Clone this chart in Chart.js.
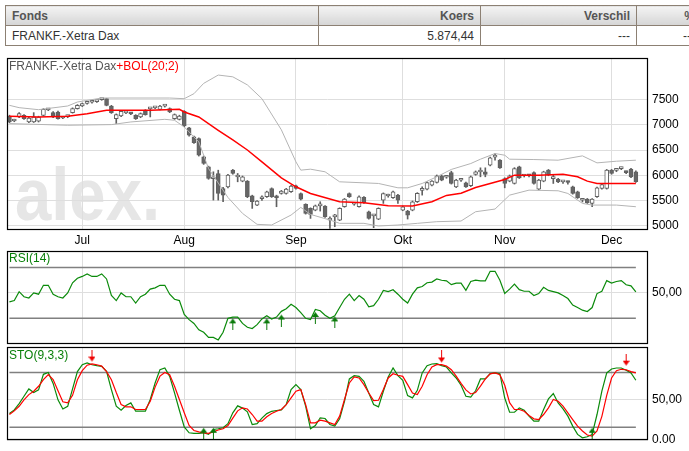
<!DOCTYPE html>
<html>
<head>
<meta charset="utf-8">
<script src="https://cdn.jsdelivr.net/npm/chart.js@4.4.0/dist/chart.umd.min.js"></script>
<style>
  html, body { margin: 0; padding: 0; background: #fff; }
  body { width: 689px; height: 451px; overflow: hidden; position: relative; font-family: "Liberation Sans", Arial, sans-serif; }
  table.quote { position: absolute; left: 5px; top: 5px; border-collapse: collapse; table-layout: fixed; width: 696px; font-size: 12px; }
  table.quote th, table.quote td { border: 1px solid #8c8073; height: 19px; padding: 0 6px; white-space: nowrap; }
  table.quote th { background: linear-gradient(#f4f4f4, #d5d5d5); color: #555; font-weight: bold; }
  table.quote td { color: #333; }
  .r { text-align: right; }
  .red { color: #e00000; }
  canvas { position: absolute; left: 0; }
  .ttl { position: absolute; left: 9px; font-size: 12px; line-height: 14px; white-space: nowrap; }
</style>
</head>
<body>
<table class="quote">
  <col style="width:313px"><col style="width:162px"><col style="width:156px"><col style="width:65px">
  <tr><th style="text-align:left">Fonds</th><th class="r">Koers</th><th class="r">Verschil</th><th class="r">%</th></tr>
  <tr><td>FRANKF.-Xetra Dax</td><td class="r">5.874,44</td><td class="r red">---</td><td class="r red">---</td></tr>
</table>

<canvas id="cPrice" width="689" height="200" style="top:50px"></canvas>
<canvas id="cRsi" width="689" height="96" style="top:250px"></canvas>
<canvas id="cSto" width="689" height="106" style="top:345px"></canvas>

<div class="ttl" style="top:59px"><span style="color:#555">FRANKF.-Xetra Dax</span><span style="color:#f00">+BOL(20;2)</span></div>
<div class="ttl" style="top:251px;color:#0a800a">RSI(14)</div>
<div class="ttl" style="top:348px;color:#0a800a">STO(9,3,3)</div>

<script>
// trading days from 10 Jun to 8 Dec, two empty slots at the right
const slotCount = 132;
const monthLabels = ['Jul', 'Aug', 'Sep', 'Okt', 'Nov', 'Dec'];
const monthStart = [15, 36, 59, 81, 102, 124];

const priceOpen = [
  7168,7075,7154,7187,7056,7056,7069,7187,7295,7240,
  7253,7135,7162,7240,7319,7372,7425,7446,7460,7498,
  7517,7372,7121,7174,7235,7225,7187,7154,7286,7315,
  7335,7306,7368,7319,7121,7108,7266,6937,6759,6726,
  6364,6166,5930,6035,5738,5771,6100,5965,5883,5883,
  5593,5409,5535,5573,5738,5593,5639,5639,5672,5791,
  5639,5422,5343,5310,5392,5389,5110,5175,5112,5376,
  5639,5425,5376,5560,5277,5195,5132,5508,5588,5554,
  5606,5310,5290,5310,5475,5700,5725,5804,5857,5989,
  5960,6054,5771,5900,5850,5791,6015,6065,6068,6199,
  6360,6298,5936,5883,5837,6166,5985,5992,6054,5725,
  5883,6100,5934,5923,5868,5858,5771,5672,5505,5527,
  5442,5573,5738,5738,6100,6096,6130,6056,6120,6068
];
const priceHigh = [
  7190,7110,7240,7200,7150,7240,7170,7320,7320,7260,
  7270,7165,7190,7335,7400,7430,7455,7475,7485,7525,
  7525,7385,7215,7280,7265,7245,7200,7235,7300,7335,
  7360,7385,7395,7335,7215,7190,7280,6950,6775,6740,
  6380,6180,6068,6100,5760,6020,6115,6035,5985,5895,
  5605,5500,5590,5685,5750,5605,5700,5740,5800,5805,
  5650,5435,5355,5410,5475,5400,5178,5225,5355,5540,
  5650,5455,5590,5575,5290,5225,5355,5650,5625,5685,
  5620,5390,5305,5490,5655,5771,5870,5895,6005,6005,
  5990,6080,5920,5935,5865,5985,6085,6147,6147,6360,
  6430,6310,5950,6005,6150,6180,6015,6015,6070,5920,
  6080,6115,6002,5940,5900,5885,5785,5685,5540,5540,
  5540,5765,5830,6115,6115,6130,6160,6080,6135,6085
];
const priceLow = [
  7040,7060,7140,7105,7040,7045,7055,7175,7280,7140,
  7110,7120,7140,7230,7310,7360,7410,7430,7445,7485,
  7375,7225,7023,7160,7220,7200,7105,7140,7190,7155,
  7320,7295,7350,7240,7105,7095,6960,6775,6630,6380,
  6215,5920,5508,5508,5475,5750,6020,5870,5870,5555,
  5343,5395,5500,5560,5560,5376,5625,5625,5660,5725,
  5510,5230,5145,5295,5290,5165,4948,4980,5100,5365,
  5560,5405,5365,5440,5130,4961,5120,5442,5565,5540,
  5442,5296,5132,5295,5460,5606,5710,5790,5845,5890,
  5940,5825,5755,5880,5760,5775,6000,5969,5969,6185,
  6298,6135,5751,5870,5825,5935,5965,5965,5825,5710,
  5870,5990,5837,5855,5840,5825,5625,5540,5470,5440,
  5376,5560,5725,5725,6020,6070,6110,6030,5950,5860
];
const priceClose = [
  7056,7085,7220,7121,7135,7154,7154,7306,7302,7154,
  7121,7145,7172,7319,7385,7418,7435,7455,7468,7508,
  7385,7240,7201,7266,7245,7215,7121,7220,7200,7322,
  7342,7372,7376,7253,7201,7174,6977,6792,6647,6397,
  6232,5936,5940,5640,5606,6002,6035,5975,5969,5573,
  5475,5488,5545,5672,5573,5554,5686,5725,5784,5738,
  5527,5244,5224,5396,5400,5178,5115,5182,5343,5527,
  5573,5433,5573,5455,5145,5200,5343,5639,5598,5672,
  5508,5376,5211,5475,5640,5710,5857,5883,5989,5903,
  5965,5837,5903,5906,5771,5969,6068,6072,6015,6344,
  6365,6147,5837,5989,6133,5949,5993,5986,5837,5903,
  6068,6002,5940,5870,5872,5856,5640,5554,5510,5455,
  5527,5751,5817,6100,6035,6104,6136,6052,5969,5874.44
];

// Bollinger (20;2)
const bolUpperDay = [0,2,6,12,14,19,33,36,38,40,43,46,49,52,56,59,60,62,65,68,76,80,82,85,88,91,95,97,100,102,103,108,113,118,121,125,129];
const bolUpper    = [7385,7339,7299,7372,7451,7530,7530,7517,7616,7820,7985,7950,7790,7517,6900,6265,6101,6120,6068,5870,5837,5751,5751,5837,5969,6115,6232,6318,6430,6397,6318,6311,6298,6384,6245,6278,6298];
const bolMidDay   = [0,6,12,16,20,29,35,36,39,43,46,49,52,56,59,62,68,73,78,83,87,90,93,96,102,104,109,114,117,119,121,129];
const bolMid      = [7168,7154,7168,7220,7286,7286,7306,7253,7154,6891,6700,6500,6265,5949,5771,5639,5475,5455,5396,5389,5475,5600,5645,5758,5916,6002,6002,6021,5969,5883,5837,5837];
const bolLowerDay = [0,5,12,21,25,32,34,36,39,41,45,48,51,54,58,60,62,66,68,73,76,80,84,88,93,96,100,103,107,113,115,118,120,125,129];
const bolLower    = [7023,7010,6990,7003,7056,7108,7089,6957,6660,6133,5560,5244,5027,5014,5211,5363,5224,5112,5047,5047,4994,5014,5047,5080,5093,5277,5330,5606,5705,5692,5639,5442,5409,5409,5376];

const rsi14 = [
  43,44,51,47,46,50,49,56,56,49,
  47,46,50,58,61.5,63,65,63,63,65,
  61,48,44,50,47,47,42,47,49,53,
  54,56,56,49,45,44,33,29,26,21,
  19,15,15,13,19,30,31,31,26,23,
  22,25,29.5,32,29.5,31,35.5,37.5,41,38.5,
  34.5,30,29,37,36,32.5,30,32,38.5,45,
  49,44,48,45,39,40,45,52,51,52.5,
  49,45,42,49,54,55,58,58.5,61,60,
  59.5,56.5,57.7,57.7,52,59,60,59.5,59.5,67,
  67,60,49.5,53,57,52.6,51.3,51.3,48,49.5,
  54.4,52,51,50,48,45.6,40.5,38.5,36.4,35.4,
  38.5,49.5,51.3,59.7,57.7,59,59.7,56.4,55.6,50.8
];
const stoK = [
  35,39,46,54,62,58,61,78,80,68,
  50,40,43,62,81,88.5,90.4,88.5,87.5,86.7,
  81.3,61.3,43.1,38.7,43.8,46.7,37.6,37.6,37.6,50.4,
  68.5,83.1,84.9,75.8,57.6,38.7,20.5,14,13.3,13.3,
  14,12.2,17.6,18.4,19.5,24,35.8,43.5,41,37,
  23,24,30,35,37.5,38.4,39,44.9,61.3,66.7,
  61.3,43.1,18.4,22,30.4,29.6,23.1,21.3,29.3,48.5,
  72.9,76.5,75.8,70.4,57.6,44.9,42.4,59.5,75.1,84.9,
  76.5,71.5,54.7,52.2,60.5,79.5,87.5,89.3,89.6,87.5,
  86,79.5,74,66,54,53,60,72.9,72.9,78.7,
  79.5,78.7,52,36.5,36.5,41.3,38.7,32.2,26.7,26.7,
  39.5,51.1,56.9,46.7,40.2,32.2,21.3,12.2,8.5,9.6,
  12.2,34,59.5,79.5,83.8,84.9,84.9,82.4,79.5,71.5
];
const stoD = [
  34,38,43,50,55.8,59.5,64.9,72.2,77.6,72.2,
  60,48,46.7,55,72,82,88,89.5,88.5,87,
  81,72,58,45,42.4,42.4,39.5,39.5,39.5,48.5,
  64,76,80,77.6,65,50.4,36,22,16.5,15,
  14,13.3,15,17,18.4,22,30,38,41.3,40,
  34,26.7,26.7,31.5,35.1,37.6,39.5,44.9,52.2,59.5,
  61.3,44.9,24.9,24.9,27.8,26.7,24.9,23.1,32.2,50.4,
  68.5,75.1,74,66.7,57.6,49.3,49.6,61.3,74,78.7,
  77,75.8,66.7,57.6,55.8,64.9,77.6,86,88.5,88.5,
  87,83,76,68,61,56.5,58,65,73,78.5,
  79.5,77.6,66,47,39.5,39.5,37.6,32.9,29.3,28.5,
  34,41.3,50.4,48.5,43.1,35.8,28.5,21.3,16,11.5,
  10.4,16,32,55,74,82,83.5,83,81,79.5
];

const rsiLevels = [70, 30];
const stoLevels = [80, 20];
const rsiBuyDay = [46, 53, 56, 63, 67];
const rsiBuyVal = [30, 30, 33, 35, 31.5];
const stoSellDay = [17, 89, 127];
const stoSellVal = [92, 91, 87.5];
const stoBuyDay = [40, 42, 120];
const stoBuyVal = [19.5, 19.5, 19.5];

const priceTicks = [5000, 5500, 6000, 6500, 7000, 7500];
const rsiTicks = [50];
const rsiTickLabels = ['50,00'];
const stoTicks = [6.1, 50];
const stoTickLabels = ['0.00', '50,00'];

const FONT = '"Liberation Sans", Arial, sans-serif';
Chart.defaults.font.family = FONT;
Chart.defaults.font.size = 12;
Chart.defaults.color = '#000';

const lastDay = priceClose.length - 1;
const pts = (xs, ys) => xs.map((x, i) => ({ x: x, y: ys[i] }));
const series = ys => ys.map((y, i) => ({ x: i, y: y }));

function noPad(s) {
  s.paddingTop = 0; s.paddingBottom = 0; s.paddingLeft = 0; s.paddingRight = 0;
}

function xAxis(showLabels) {
  return {
    type: 'linear', min: -0.5, max: slotCount - 0.5, offset: false,
    grid: { color: '#dedede', drawTicks: false, offset: false },
    border: { display: false },
    afterBuildTicks: s => { s.ticks = monthStart.map(v => ({ value: v })); },
    afterFit: s => { s.height = showLabels ? 20 : 0; noPad(s); },
    ticks: {
      display: showLabels, autoSkip: false, maxRotation: 0, padding: 3,
      callback: v => monthLabels[monthStart.indexOf(v)]
    }
  };
}

function yAxis(min, max, ticks, labels) {
  return {
    type: 'linear', position: 'right', min: min, max: max,
    grid: { color: '#dedede', drawTicks: false },
    border: { display: false },
    afterBuildTicks: s => { s.ticks = ticks.map(v => ({ value: v })); },
    afterFit: s => { s.width = 41; noPad(s); },
    ticks: { padding: 4, callback: (v, i) => labels ? labels[i] : String(v) }
  };
}

const framePlugin = {
  id: 'frame',
  afterDraw(chart) {
    const a = chart.chartArea, ctx = chart.ctx;
    ctx.save();
    ctx.strokeStyle = '#000';
    ctx.lineWidth = 1.2;
    ctx.strokeRect(Math.round(a.left) + 0.5, Math.round(a.top) + 0.5,
      Math.round(a.right - a.left) - 1, Math.round(a.bottom - a.top) - 1);
    ctx.restore();
  }
};

const watermarkPlugin = {
  id: 'watermark',
  beforeDraw(chart) {
    const ctx = chart.ctx;
    ctx.save();
    ctx.font = 'bold 74px ' + FONT;
    const w = ctx.measureText('alex.').width;
    ctx.translate(15, 170);
    ctx.scale(145 / w, 1);
    ctx.fillStyle = '#e6e6e6';
    ctx.fillText('alex.', 0, 0);
    ctx.restore();
  }
};

function arrow(color, up) {
  const L = 12, w = 7, head = 5;
  const c = document.createElement('canvas');
  c.width = w; c.height = 2 * L;
  const g = c.getContext('2d');
  g.fillStyle = color;
  g.beginPath();
  if (up) {
    g.moveTo(w / 2, L); g.lineTo(0, L + head); g.lineTo(w, L + head);
    g.closePath(); g.fill();
    g.fillRect(w / 2 - 0.5, L + head, 1, L - head);
  } else {
    g.moveTo(w / 2, L); g.lineTo(0, L - head); g.lineTo(w, L - head);
    g.closePath(); g.fill();
    g.fillRect(w / 2 - 0.5, 0, 1, L - head);
  }
  return c;
}
const greenUp = arrow('#0a7a0a', true);
const redDown = arrow('#ee0000', false);

const lineDs = (data, color, width, order) => ({
  type: 'line', data: data, borderColor: color, borderWidth: width,
  pointRadius: 0, tension: 0, fill: false, order: order
});
const arrowDs = (data, img) => ({
  type: 'line', data: data, showLine: false, pointStyle: img, pointRadius: 4, order: 0
});
const levelDs = lvl => lineDs([{ x: 0, y: lvl }, { x: lastDay, y: lvl }], '#808080', 1.5, 2);

const common = {
  responsive: false, animation: false, events: [],
  plugins: { legend: { display: false }, tooltip: { enabled: false } }
};

// price panel
new Chart(document.getElementById('cPrice'), {
  type: 'line',
  data: {
    datasets: [
      lineDs(pts(bolUpperDay, bolUpper), '#b4b4b4', 1, 0),
      lineDs(pts(bolLowerDay, bolLower), '#b4b4b4', 1, 0),
      lineDs(pts(bolMidDay, bolMid), '#ff0000', 1.5, 0),
      {
        type: 'bar', order: 1, grouped: false,
        data: priceOpen.map((o, i) => ({ x: i, y: [o, priceClose[i]] })),
        backgroundColor: priceOpen.map((o, i) => priceClose[i] >= o ? '#ffffff' : '#666666'),
        borderColor: '#606060', borderWidth: 1, borderSkipped: false,
        barThickness: 4, minBarLength: 2
      },
      {
        type: 'bar', order: 2, grouped: false,
        data: priceLow.map((l, i) => ({ x: i, y: [l, priceHigh[i]] })),
        backgroundColor: '#606060', borderWidth: 0, barThickness: 1
      }
    ]
  },
  options: Object.assign({}, common, {
    layout: { autoPadding: false, padding: { left: 7, top: 8, right: 0, bottom: 0 } },
    scales: { x: xAxis(true), y: yAxis(4915, 8323, priceTicks, null) }
  }),
  plugins: [watermarkPlugin, framePlugin]
});

// RSI panel
new Chart(document.getElementById('cRsi'), {
  type: 'line',
  data: {
    datasets: [
      arrowDs(pts(rsiBuyDay, rsiBuyVal), greenUp),
      lineDs(series(rsi14), '#0a8a0a', 1.2, 1),
      levelDs(rsiLevels[0]),
      levelDs(rsiLevels[1])
    ]
  },
  options: Object.assign({}, common, {
    layout: { autoPadding: false, padding: { left: 7, top: 1, right: 0, bottom: 2 } },
    scales: { x: xAxis(false), y: yAxis(9.8, 83, rsiTicks, rsiTickLabels) }
  }),
  plugins: [framePlugin]
});

// STO panel
new Chart(document.getElementById('cSto'), {
  type: 'line',
  data: {
    datasets: [
      arrowDs(pts(stoSellDay, stoSellVal), redDown),
      arrowDs(pts(stoBuyDay, stoBuyVal), greenUp),
      lineDs(series(stoD), '#ff0000', 1.2, 1),
      lineDs(series(stoK), '#0a8a0a', 1.2, 1),
      levelDs(stoLevels[0]),
      levelDs(stoLevels[1])
    ]
  },
  options: Object.assign({}, common, {
    layout: { autoPadding: false, padding: { left: 7, top: 2, right: 0, bottom: 11 } },
    scales: { x: xAxis(false), y: yAxis(6.1, 107.9, stoTicks, stoTickLabels) }
  }),
  plugins: [framePlugin]
});
</script>
</body>
</html>
